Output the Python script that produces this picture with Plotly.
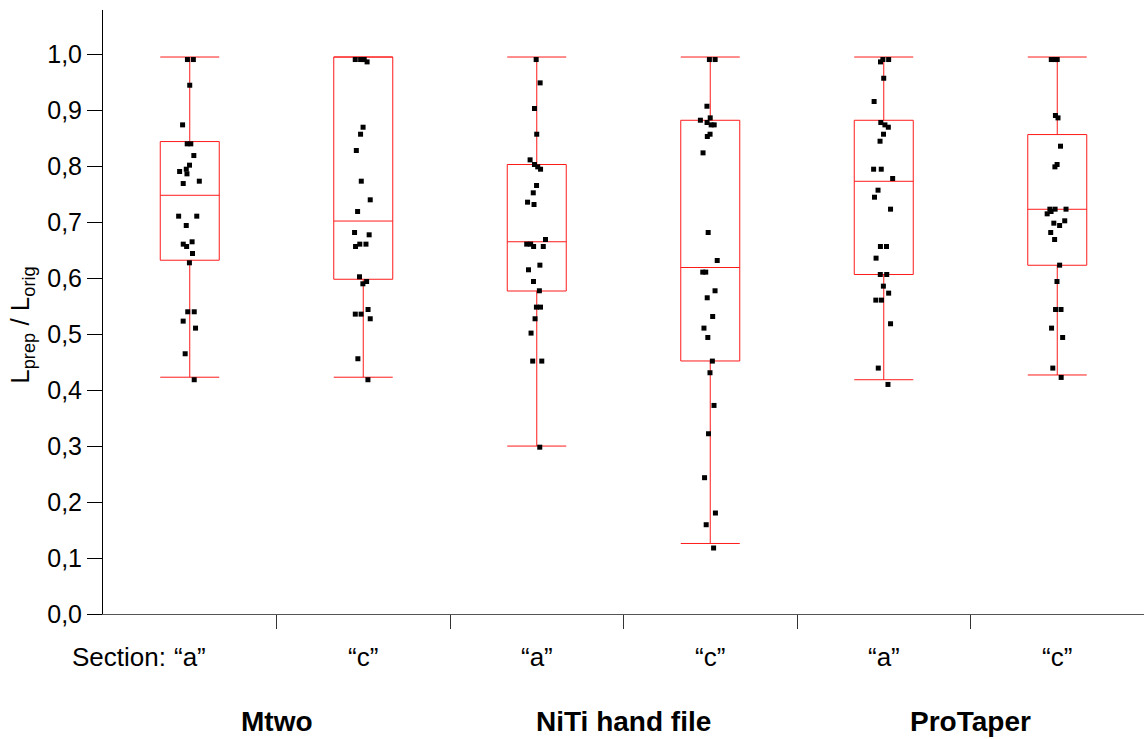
import plotly.graph_objects as go

# ---- data ----
groups = ["Mtwo", "NiTi hand file", "ProTaper"]
sections = ["“a”", "“c”", "“a”", "“c”", "“a”", "“c”"]
ytick_vals = [0.0, 0.1, 0.2, 0.3, 0.4, 0.5, 0.6, 0.7, 0.8, 0.9, 1.0]
ytick_text = ["0,0", "0,1", "0,2", "0,3", "0,4", "0,5", "0,6", "0,7", "0,8", "0,9", "1,0"]

mtwo_a = [0.9905, 0.9905, 0.9446, 0.8738, 0.8399, 0.8399, 0.8190, 0.8018, 0.7946,
          0.7905, 0.7863, 0.7732, 0.7690, 0.7107, 0.7107, 0.6940, 0.6649, 0.6607,
          0.6565, 0.6440, 0.6274, 0.5399, 0.5399, 0.5232, 0.5107, 0.4649, 0.4185]
mtwo_c = [0.9905, 0.9905, 0.9905, 0.9905, 0.9863, 0.8696, 0.8571, 0.8280, 0.7732,
          0.7399, 0.7190, 0.6815, 0.6774, 0.6607, 0.6607, 0.6565, 0.6024, 0.5940,
          0.5899, 0.5440, 0.5357, 0.5357, 0.5274, 0.4560, 0.4185]
niti_a = [0.9905, 0.9488, 0.9030, 0.8571, 0.8113, 0.8030, 0.7988, 0.7946, 0.7655,
          0.7524, 0.7357, 0.7315, 0.6690, 0.6607, 0.6607, 0.6565, 0.6565, 0.6232,
          0.6149, 0.5940, 0.5774, 0.5482, 0.5482, 0.5274, 0.5018, 0.4518, 0.4518, 0.2980]
niti_c = [0.9905, 0.9905, 0.9071, 0.8863, 0.8821, 0.8780, 0.8738, 0.8738, 0.8571,
          0.8530, 0.8238, 0.6815, 0.6315, 0.6107, 0.6107, 0.5774, 0.5649, 0.5315,
          0.5107, 0.4940, 0.4518, 0.4310, 0.3726, 0.3220, 0.2435, 0.1804, 0.1595, 0.1179]
pro_a = [0.9905, 0.9905, 0.9863, 0.9571, 0.9155, 0.8780, 0.8738, 0.8696, 0.8571,
         0.8446, 0.7946, 0.7946, 0.7780, 0.7571, 0.7446, 0.7232, 0.6565, 0.6565,
         0.6357, 0.6065, 0.6065, 0.5857, 0.5732, 0.5607, 0.5607, 0.5185, 0.4393, 0.4101]
pro_c = [0.9905, 0.9905, 0.9905, 0.8905, 0.8863, 0.8357, 0.8030, 0.7988, 0.7232,
         0.7232, 0.7232, 0.7190, 0.7149, 0.7024, 0.6982, 0.6940, 0.6815, 0.6690,
         0.6232, 0.5940, 0.5440, 0.5440, 0.5107, 0.4940, 0.4393, 0.4226]
samples = [mtwo_a, mtwo_c, niti_a, niti_c, pro_a, pro_c]

# box statistics as drawn in the reference
q1 = [0.632, 0.598, 0.577, 0.452, 0.6065, 0.623]
median = [0.748, 0.702, 0.665, 0.619, 0.773, 0.723]
q3 = [0.844, 0.995, 0.803, 0.882, 0.882, 0.8565]
lowerfence = [0.423, 0.423, 0.300, 0.126, 0.4185, 0.427]
upperfence = [0.995, 0.995, 0.995, 0.995, 0.995, 0.995]

FONT = "Liberation Sans, Arial, sans-serif"
RED = "#ff1a1a"
BOXW = 0.34

fig = go.Figure()
for i in range(len(samples)):
    fig.add_trace(go.Box(
        x=[i], q1=[q1[i]], median=[median[i]], q3=[q3[i]],
        lowerfence=[lowerfence[i]], upperfence=[upperfence[i]],
        boxpoints=False, width=BOXW, whiskerwidth=1,
        line=dict(color=RED, width=1), fillcolor="rgba(0,0,0,0)",
        showlegend=False, hoverinfo="skip"))
for i, vals in enumerate(samples):
    fig.add_trace(go.Box(
        x=[i] * len(vals), y=vals, boxpoints="all", jitter=0.4, pointpos=0,
        width=BOXW, line=dict(width=0, color="rgba(0,0,0,0)"),
        fillcolor="rgba(0,0,0,0)",
        marker=dict(symbol="square", size=5, color="black"),
        showlegend=False))

annotations = []
for i, s in enumerate(sections):
    annotations.append(dict(x=i, y=0, xref="x", yref="paper", text=s, showarrow=False,
                            xanchor="center", yanchor="middle", yshift=-43,
                            font=dict(family=FONT, size=26, color="black")))
annotations.append(dict(x=0, y=0, xref="x", yref="paper", text="Section:", showarrow=False,
                        xanchor="right", yanchor="middle", yshift=-43, xshift=-22,
                        font=dict(family=FONT, size=26, color="black")))
for g, name in enumerate(groups):
    annotations.append(dict(x=2 * g + 0.5, y=0, xref="x", yref="paper",
                            text="<b>%s</b>" % name, showarrow=False,
                            xanchor="center", yanchor="middle", yshift=-107,
                            font=dict(family=FONT, size=28, color="black")))
annotations.append(dict(x=0, y=0.515, xref="paper", yref="y",
                        text="L<sub>prep</sub> / L<sub>orig</sub>", showarrow=False,
                        textangle=-90, xanchor="center", yanchor="middle", xshift=-81,
                        font=dict(family=FONT, size=26, color="black")))

fig.update_layout(
    width=1144, height=739,
    margin=dict(l=103, r=0, t=10, b=125),
    paper_bgcolor="white", plot_bgcolor="white",
    boxmode="overlay",
    showlegend=False,
    annotations=annotations,
    xaxis=dict(range=[-0.5, 5.5], tickvals=[0.5, 1.5, 2.5, 3.5, 4.5],
               showticklabels=False, ticks="outside", ticklen=14, tickwidth=1,
               tickcolor="#333", showline=True, linecolor="#555", linewidth=1,
               showgrid=False, zeroline=False, fixedrange=True),
    yaxis=dict(range=[0, 1.079], tickvals=ytick_vals, ticktext=ytick_text,
               ticks="outside", ticklen=15, tickwidth=1, tickcolor="black",
               showline=True, linecolor="black", linewidth=1,
               showgrid=False, zeroline=False,
               tickfont=dict(family=FONT, size=25, color="black")),
)

fig.write_html("out.html", config={"displayModeBar": False},
               post_script="document.body.style.margin='0';document.body.style.overflow='hidden';")
